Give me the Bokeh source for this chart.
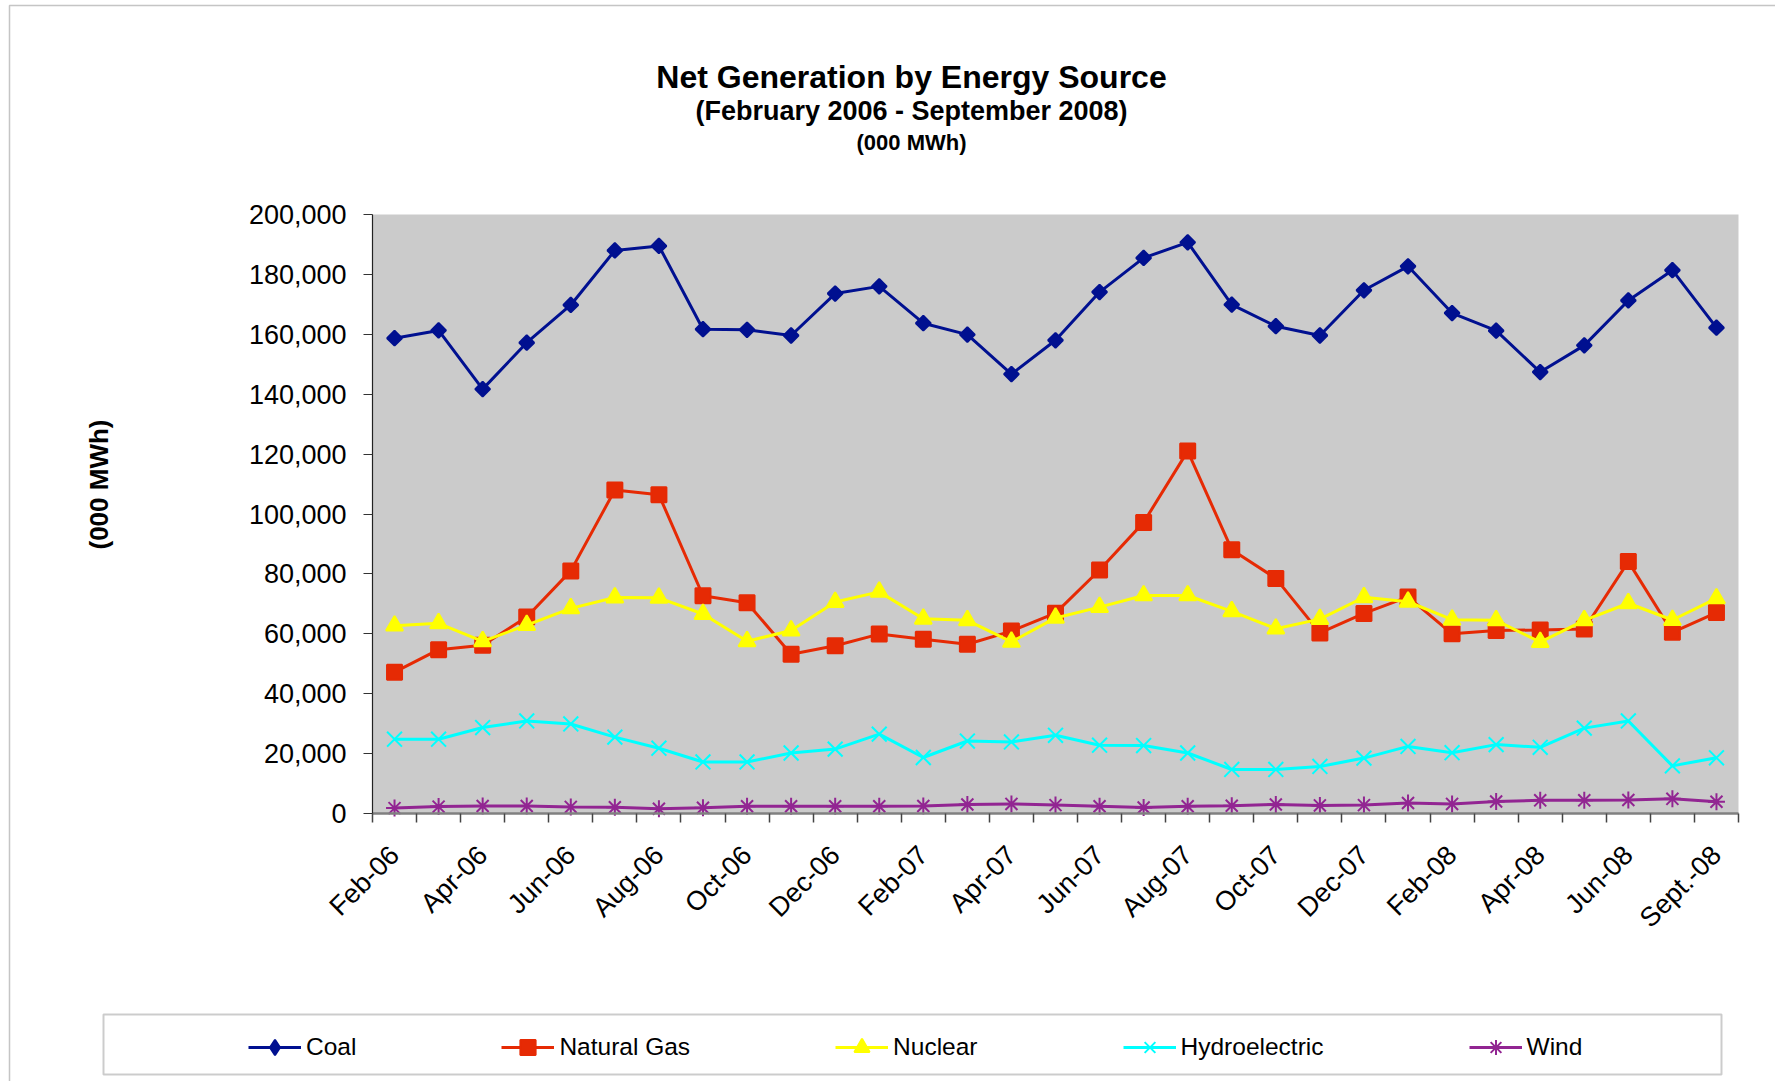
from math import pi
from bokeh.plotting import figure
from bokeh.models import (Range1d, FixedTicker, NumeralTickFormatter, Label,
                          Legend, LegendItem, BoxAnnotation)
from bokeh.embed import file_html
from bokeh.resources import INLINE

months = ["Feb-06", "Mar-06", "Apr-06", "May-06", "Jun-06", "Jul-06", "Aug-06",
          "Sep-06", "Oct-06", "Nov-06", "Dec-06", "Jan-07", "Feb-07", "Mar-07",
          "Apr-07", "May-07", "Jun-07", "Jul-07", "Aug-07", "Sep-07", "Oct-07",
          "Nov-07", "Dec-07", "Jan-08", "Feb-08", "Mar-08", "Apr-08", "May-08",
          "Jun-08", "Jul-08", "Sept.-08"]

coal = [158700, 161300, 141700, 157200, 169800, 188000, 189500, 161700, 161500,
        159600, 173600, 176000, 163700, 159900, 146700, 158000, 174100, 185500,
        190700, 169900, 162700, 159600, 174700, 182700, 167100, 161200, 147400,
        156300, 171300, 181400, 162200]
natural_gas = [47200, 54700, 56200, 65600, 81000, 108000, 106400, 72700, 70400,
               53200, 56000, 59900, 58200, 56500, 60900, 66900, 81300, 97200,
               121000, 88100, 78500, 60300, 66800, 72300, 60000, 61100, 61300,
               61600, 84100, 60500, 67100]
nuclear = [62700, 63500, 57500, 62900, 68500, 72100, 72000, 66600, 57500, 61100,
           70600, 74000, 65000, 64500, 57300, 65300, 68900, 72800, 72800, 67500,
           61700, 64900, 72200, 70700, 64700, 64500, 57200, 64500, 70200, 64600,
           71800]
hydroelectric = [24800, 24800, 28700, 30900, 29900, 25500, 21800, 17200, 17200,
                 20200, 21500, 26500, 18700, 24200, 23900, 26100, 22800, 22700,
                 20200, 14700, 14700, 15700, 18500, 22400, 20300, 23000, 22100,
                 28500, 30900, 15900, 18600]
wind = [1800, 2300, 2500, 2500, 2200, 2100, 1600, 1900, 2400, 2400, 2400, 2400,
        2500, 3000, 3200, 2800, 2400, 2000, 2400, 2600, 3000, 2700, 2800, 3500,
        3200, 4000, 4400, 4400, 4500, 4900, 3900]

y_ticks = list(range(0, 200001, 20000))
Y_MAX = 200000
FONT = "Liberation Sans"

n = len(months)
x = list(range(n))

# ---- layout (pixels on the canvas) ----
W, H = 1775, 1081
PL, PR, PT, PB = 372, 1738, 214, 813      # plot area edges
XS = (PR - PL) / n                          # px per category
YS = (PB - PT) / Y_MAX                      # px per unit


def xd(px):
    return -0.5 + (px - PL) / XS


def yd(py):
    return (PB - py) / YS


p = figure(width=W, height=H, output_backend="svg", toolbar_location=None,
           x_range=Range1d(xd(0), xd(W)), y_range=Range1d(yd(H), yd(0)),
           min_border_left=0, min_border_right=0, min_border_top=0,
           min_border_bottom=0)
p.title.visible = False
p.background_fill_color = "white"
p.border_fill_color = "white"
p.outline_line_color = None
p.grid.visible = False

# plot-area background
p.quad(left=[-0.5], right=[n - 0.5], bottom=[0], top=[Y_MAX],
       fill_color="#CBCBCB", line_color=None)

yax = p.yaxis[0]
yax.fixed_location = -0.5
yax.bounds = (0, Y_MAX)
yax.ticker = FixedTicker(ticks=y_ticks)
yax.formatter = NumeralTickFormatter(format="0,0")
yax.major_label_text_font = FONT
yax.major_label_text_font_size = "27px"
yax.major_label_text_color = "black"
yax.major_tick_out = 9
yax.major_tick_in = 0
yax.minor_tick_line_color = None
yax.major_tick_line_color = "#333333"
yax.axis_line_color = "#222222"
yax.axis_line_width = 1.2
yax.major_label_standoff = 17

xax = p.xaxis[0]
xax.fixed_location = 0
xax.bounds = (-0.5, n - 0.5)
xax.ticker = FixedTicker(ticks=list(range(0, n, 2)),
                         minor_ticks=[i - 0.5 for i in range(n + 1)])
xax.major_label_overrides = {i: months[i] for i in range(0, n, 2)}
xax.major_label_orientation = pi / 4
xax.major_label_text_font = FONT
xax.major_label_text_font_size = "27px"
xax.major_label_text_color = "black"
xax.major_tick_line_color = None
xax.major_tick_out = 9
xax.major_tick_in = 0
xax.minor_tick_out = 9
xax.minor_tick_in = 0
xax.minor_tick_line_color = "#444444"
xax.minor_tick_line_width = 1.5
xax.axis_line_color = "#808080"
xax.axis_line_width = 2.5
xax.major_label_standoff = 28

# name, values, colour, plot marker, legend marker
series = [
    ("Coal", coal, "#001090", dict(marker="square", angle=pi / 4, size=10.5), "diamond"),
    ("Natural Gas", natural_gas, "#E62A04", dict(marker="square", size=15), "square"),
    ("Nuclear", nuclear, "#FFFF00", dict(marker="triangle", size=17), "triangle"),
    ("Hydroelectric", hydroelectric, "#00FFFF", dict(marker="x", size=21), "x"),
    ("Wind", wind, "#922592", dict(marker="asterisk", size=17), "asterisk"),
]

items = []
for name, vals, col, mk, legend_marker in series:
    lr = p.line(x, vals, line_color=col, line_width=3)
    p.scatter(x, vals, fill_color=col, line_color=col, line_width=2, **mk)
    # zero-size twin used only for the legend swatch (legend sets its own size)
    lg = p.scatter(x, vals, marker=legend_marker, size=0, fill_color=col,
                   line_color=col, line_width=2)
    items.append(LegendItem(label=name, renderers=[lr, lg]))

GLYPH_H = 38
legend = Legend(items=items, orientation="horizontal",
                location=(248, H - (1047 + GLYPH_H // 2)),
                spacing=145, glyph_width=53, glyph_height=GLYPH_H, label_height=28,
                label_standoff=5, padding=0, margin=0,
                label_text_font=FONT, label_text_font_size="24.5px",
                label_text_color="black", border_line_color=None,
                background_fill_alpha=0)
p.add_layout(legend)

# legend frame
p.add_layout(BoxAnnotation(left=xd(103), right=xd(1721), top=yd(1014),
                           bottom=yd(1074), fill_alpha=0, line_color="#555555",
                           line_width=2))
# chart-area frame
p.add_layout(BoxAnnotation(left=xd(9), right=xd(W + 40), top=yd(5),
                           bottom=yd(H + 40), fill_alpha=0,
                           line_color="#404040", line_width=1.5))

title_x = xd(911)
p.add_layout(Label(x=title_x, y=yd(76), text="Net Generation by Energy Source",
                   text_align="center", text_baseline="alphabetic",
                   text_color="black",
                   text_font=FONT, text_font_style="bold", text_font_size="32px"))
p.add_layout(Label(x=title_x, y=yd(110), text="(February 2006 - September 2008)",
                   text_align="center", text_baseline="alphabetic",
                   text_color="black",
                   text_font=FONT, text_font_style="bold", text_font_size="27px"))
p.add_layout(Label(x=title_x, y=yd(142), text="(000 MWh)",
                   text_align="center", text_baseline="alphabetic",
                   text_color="black",
                   text_font=FONT, text_font_style="bold", text_font_size="22px"))
p.add_layout(Label(x=xd(98), y=yd(484), text="(000 MWh)", text_align="center",
                   angle=pi / 2, text_baseline="middle", text_color="black",
                   text_font=FONT, text_font_style="bold", text_font_size="26px"))

open("out.html", "w").write(file_html(p, INLINE))
